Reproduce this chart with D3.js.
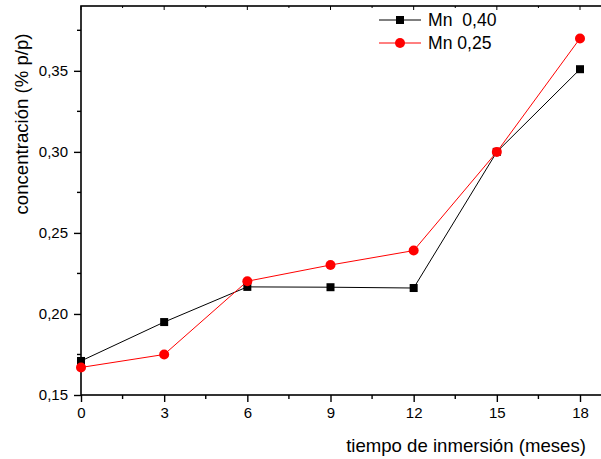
<!DOCTYPE html>
<html><head><meta charset="utf-8">
<script src="https://cdn.jsdelivr.net/npm/d3@7"></script>
<style>body{margin:0;background:#fff}svg{display:block}text{font-family:"Liberation Sans",Arial,sans-serif}</style>
</head><body>
<svg id="c" width="601" height="459"></svg>
<script>
const months = [0, 3, 6, 9, 12, 15, 18];
const mn040 = [0.171, 0.195, 0.2167, 0.2165, 0.216, 0.300, 0.351];
const mn025 = [0.167, 0.175, 0.2202, 0.2302, 0.2391, 0.300, 0.370];
const seriesNames = ["Mn  0,40", "Mn 0,25"];
const xTicks = [0, 3, 6, 9, 12, 15, 18];
const yTicks = [0.15, 0.20, 0.25, 0.30, 0.35];

const svg = d3.select("#c");
const L = 81, T = 6, B = 395;
const x = d3.scaleLinear().domain([0, 18]).range([L, 580]);
const xEnd = x(19.5);
const y = d3.scaleLinear().domain([0.15, 0.39]).range([B, T]);
const fmtY = d => d3.format(".2f")(d).replace(".", ",");

// frame
svg.append("rect").attr("x", L).attr("y", T).attr("width", xEnd - L).attr("height", B - T)
  .attr("fill", "none").attr("stroke", "#000").attr("stroke-width", 1.6);

// bottom axis
const minorX = d3.range(1.5, 19, 3);
const gx = svg.append("g").attr("transform", `translate(0,${B})`);
gx.call(d3.axisBottom(x).tickValues(xTicks).tickSize(7).tickPadding(5).tickFormat(d => d));
gx.select(".domain").remove();
gx.selectAll("line").attr("stroke-width", 1.4);
gx.selectAll("text").attr("font-size", 15).attr("fill", "#000");
gx.selectAll(".mx").data(minorX).join("line").attr("class", "mx")
  .attr("x1", d => x(d)).attr("x2", d => x(d)).attr("y1", 0).attr("y2", 4).attr("stroke", "#000").attr("stroke-width", 1.4);

// top axis ticks (inward)
const gt = svg.append("g").attr("transform", `translate(0,${T})`);
gt.selectAll("line").data(xTicks.concat(minorX)).join("line")
  .attr("x1", d => x(d)).attr("x2", d => x(d)).attr("y1", 0).attr("y2", d => xTicks.includes(d) ? 4 : 2)
  .attr("stroke", "#000").attr("stroke-width", 1);

// left axis
const minorY = [0.175, 0.225, 0.275, 0.325, 0.375];
const gy = svg.append("g").attr("transform", `translate(${L},0)`);
gy.call(d3.axisLeft(y).tickValues(yTicks).tickSize(7).tickPadding(6).tickFormat(fmtY));
gy.select(".domain").remove();
gy.selectAll("line").attr("stroke-width", 1.4);
gy.selectAll("text").attr("font-size", 15).attr("fill", "#000");
gy.selectAll(".my").data(minorY).join("line").attr("class", "my")
  .attr("x1", 0).attr("x2", -4).attr("y1", d => y(d)).attr("y2", d => y(d)).attr("stroke", "#000").attr("stroke-width", 1.4);

// axis titles
svg.append("text").attr("x", 466).attr("y", 452).attr("text-anchor", "middle").attr("font-size", 18.6)
  .text("tiempo de inmersión (meses)");
svg.append("text").attr("transform", "translate(28,124) rotate(-90)").attr("text-anchor", "middle").attr("font-size", 18.6)
  .text("concentración (% p/p)");

// lines
const line = d3.line().x((d, i) => x(months[i])).y(d => y(d));
svg.append("path").datum(mn040).attr("d", line).attr("fill", "none").attr("stroke", "#000").attr("stroke-width", 1);
svg.append("path").datum(mn025).attr("d", line).attr("fill", "none").attr("stroke", "#ff0000").attr("stroke-width", 1);

svg.selectAll(".sq").data(mn040).join("rect").attr("class", "sq")
  .attr("x", (d, i) => x(months[i]) - 4).attr("y", d => y(d) - 4).attr("width", 8).attr("height", 8).attr("fill", "#000");
svg.selectAll(".ci").data(mn025).join("circle").attr("class", "ci")
  .attr("cx", (d, i) => x(months[i])).attr("cy", d => y(d)).attr("r", 5).attr("fill", "#ff0000");

// legend
const lg = svg.append("g");
const rows = [{n: seriesNames[0], c: "#000", m: "sq", yy: 20}, {n: seriesNames[1], c: "#ff0000", m: "ci", yy: 43}];
rows.forEach(r => {
  lg.append("line").attr("x1", 379).attr("x2", 421).attr("y1", r.yy).attr("y2", r.yy).attr("stroke", r.c).attr("stroke-width", 1);
  if (r.m === "sq") lg.append("rect").attr("x", 396).attr("y", r.yy - 4).attr("width", 8).attr("height", 8).attr("fill", r.c);
  else lg.append("circle").attr("cx", 400).attr("cy", r.yy).attr("r", 5).attr("fill", r.c);
  lg.append("text").attr("x", 428).attr("y", r.yy + 6).attr("font-size", 17.6).attr("xml:space", "preserve").style("white-space", "pre").text(r.n);
});
</script>
</body></html>
